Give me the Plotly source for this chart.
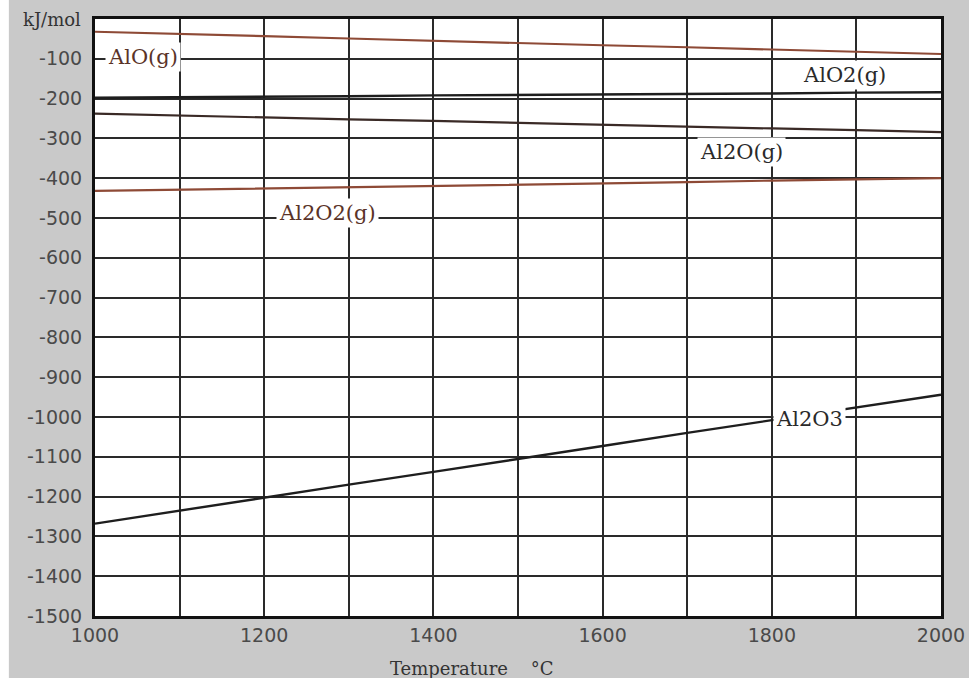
import plotly.graph_objects as go

temperature = [1000, 1100, 1200, 1300, 1400, 1500, 1600, 1700, 1800, 1900, 2000]
alo_g = [-32, -37, -43, -49, -55, -60, -66, -71, -77, -83, -88]
alo2_g = [-198, -197, -195, -194, -192, -191, -190, -188, -187, -185, -184]
al2o_g = [-238, -243, -247, -252, -256, -261, -266, -270, -275, -279, -284]
al2o2_g = [-432, -429, -426, -422, -419, -416, -413, -410, -406, -403, -400]
al2o3 = [-1268, -1235, -1203, -1170, -1138, -1106, -1073, -1040, -1008, -976, -944]

x_ticks = [1000, 1100, 1200, 1300, 1400, 1500, 1600, 1700, 1800, 1900, 2000]
x_ticktext = ["1000", "", "1200", "", "1400", "", "1600", "", "1800", "", "2000"]
y_ticks = [0, -100, -200, -300, -400, -500, -600, -700, -800, -900, -1000,
           -1100, -1200, -1300, -1400, -1500]
y_ticktext = [""] + [str(v) for v in y_ticks[1:]]

brown = "#8e4a36"
dark = "#1e1e1e"

fig = go.Figure()
series = [
    ("AlO(g)", alo_g, brown, 2.2),
    ("AlO2(g)", alo2_g, dark, 2.4),
    ("Al2O(g)", al2o_g, "#3a2a26", 2.2),
    ("Al2O2(g)", al2o2_g, brown, 2.2),
    ("Al2O3", al2o3, dark, 2.4),
]
for name, vals, col, w in series:
    fig.add_trace(go.Scatter(x=temperature, y=vals, mode="lines", name=name,
                             line=dict(color=col, width=w), showlegend=False,
                             hoverinfo="skip"))

labels = [
    ("AlO(g)", 1057, -95, "#5a3328"),
    ("AlO2(g)", 1886, -140, "#2a2a2a"),
    ("Al2O(g)", 1764, -334, "#2a2a2a"),
    ("Al2O2(g)", 1275, -487, "#5a3328"),
    ("Al2O3", 1844, -1006, "#2a2a2a"),
]
for text, x, y, col in labels:
    fig.add_annotation(x=x, y=y, text=text, showarrow=False,
                       font=dict(family="DejaVu Serif, serif", size=21, color=col),
                       bgcolor="white", borderpad=2)

# unit label at the top of the y axis
fig.add_annotation(x=-0.0142, y=0, xref="paper", yref="y", text="kJ/mol",
                   showarrow=False, xanchor="right", yanchor="middle",
                   font=dict(family="DejaVu Serif, serif", size=18, color="#333333"))

fig.add_annotation(x=0.446, y=-0.067, xref="paper", yref="paper",
                   text="Temperature&nbsp;&nbsp;&nbsp;&nbsp;°C", showarrow=False,
                   xanchor="center", yanchor="top",
                   font=dict(family="DejaVu Serif, serif", size=18, color="#333333"))

# thin white strip at the left edge of the image
fig.add_shape(type="rect", xref="paper", yref="paper",
              x0=-0.13, x1=-0.1018, y0=-0.2, y1=1.1,
              fillcolor="white", line=dict(width=0), layer="below")

fig.update_xaxes(range=[1000, 2000], tickvals=x_ticks, ticktext=x_ticktext,
                 showgrid=True, gridcolor="#2a2a2a", gridwidth=1.5,
                 showline=True, linecolor="#111111", linewidth=3, mirror=True,
                 ticks="", zeroline=False, automargin=False,
                 tickfont=dict(family="DejaVu Sans, sans-serif", size=19, color="#4a4a4a"))
fig.update_yaxes(range=[-1500, 0], tickvals=y_ticks, ticktext=y_ticktext,
                 showgrid=True, gridcolor="#2a2a2a", gridwidth=1.5,
                 showline=True, linecolor="#111111", linewidth=3, mirror=True,
                 ticks="", zeroline=False, automargin=False, ticklabelstandoff=6,
                 tickfont=dict(family="DejaVu Sans, sans-serif", size=19, color="#4a4a4a"))

fig.update_layout(width=969, height=678,
                  margin=dict(l=95, r=28, t=19, b=62),
                  paper_bgcolor="#c9c9c9", plot_bgcolor="white")

fig.write_html("out.html", config={"displayModeBar": False},
               post_script="document.body.style.margin='0';document.body.style.padding='0';")
